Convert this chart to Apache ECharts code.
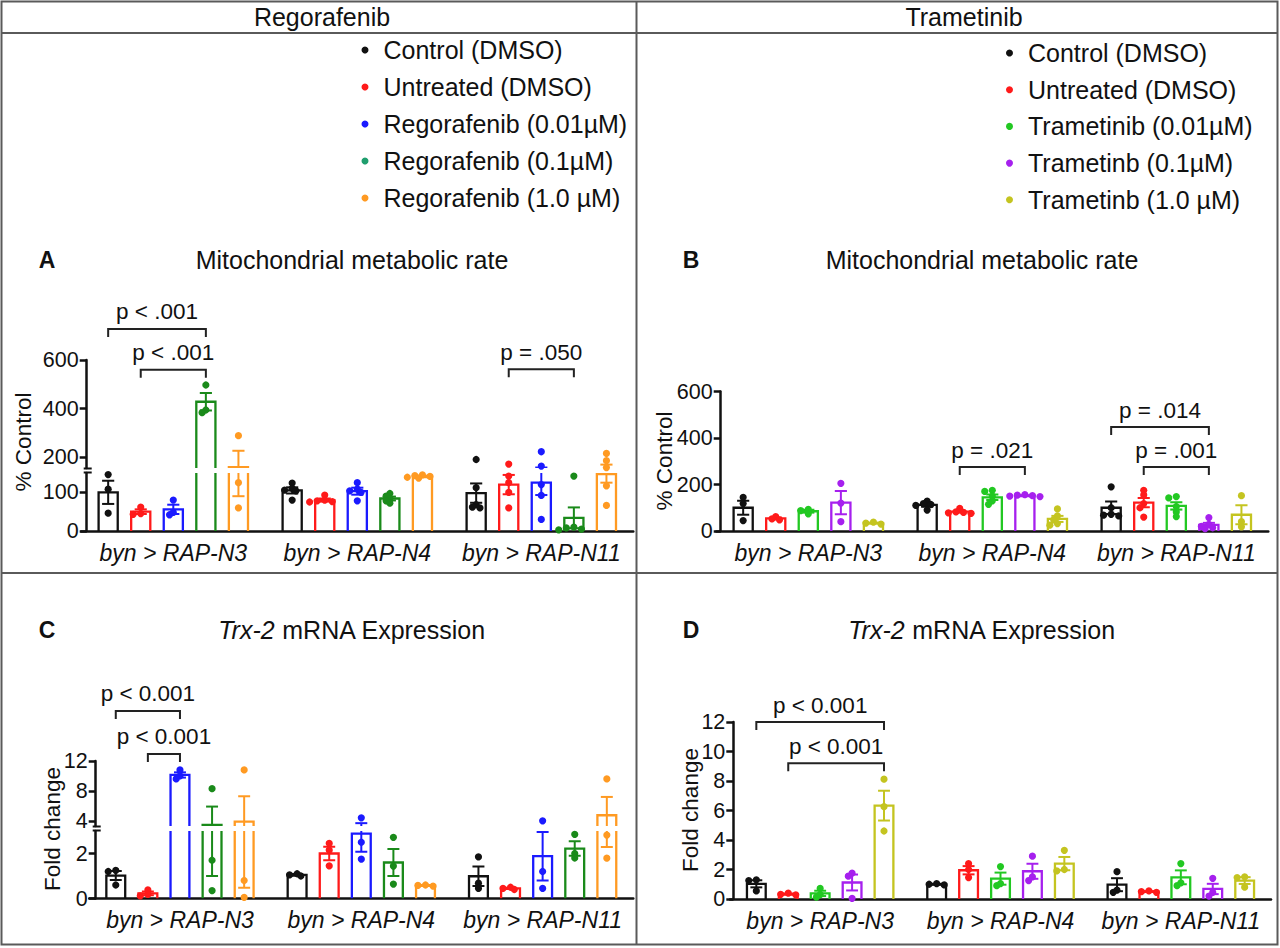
<!DOCTYPE html>
<html>
<head>
<meta charset="utf-8">
<script src="https://cdn.jsdelivr.net/npm/echarts@6/dist/echarts.min.js"></script>
<style>
  html, body { margin: 0; padding: 0; background: #fff; }
  #chart { width: 1280px; height: 948px; }
</style>
</head>
<body>
<div id="chart"></div>
<script>
// ---- data ----
const categories = ['byn > RAP-N3', 'byn > RAP-N4', 'byn > RAP-N11'];
const regoNames = ['Control (DMSO)', 'Untreated (DMSO)', 'Regorafenib (0.01µM)', 'Regorafenib (0.1µM)', 'Regorafenib (1.0 µM)'];
const tramNames = ['Control (DMSO)', 'Untreated (DMSO)', 'Trametinib (0.01µM)', 'Trametinb (0.1µM)', 'Trametinb (1.0 µM)'];

// A: mitochondrial metabolic rate, regorafenib (% control), [group][category]
const meanA = [[100, 105, 98], [50, 80, 120], [56, 103, 125], [428, 84, 34], [158, 141, 147]];
const semA = [[30, 8, 25], [6, 4, 25], [12, 9, 32], [36, 5, 27], [68, 2, 22]];
const ptsA = [
  [[146, 108, 46], [124, 110, 106, 104, 80], [190, 112, 68, 62, 60]],
  [[62, 45, 43], [93, 80, 78, 76, 75], [171, 142, 125, 100, 60]],
  [[80, 48, 42], [125, 108, 104, 100, 78], [222, 163, 120, 92, 30]],
  [[497, 394, 383], [97, 90, 84, 78, 72], [142, 10, 8, 5, 3]],
  [[288, 125, 60], [145, 143, 141, 139, 137], [215, 185, 157, 117, 66]]
];
// B: mitochondrial metabolic rate, trametinib
const meanB = [[100, 112, 100], [54, 83, 122], [85, 145, 108], [122, 152, 26], [34, 52, 70]];
const semB = [[30, 8, 27], [4, 4, 20], [6, 12, 16], [50, 2, 9], [2, 13, 41]];
const ptsB = [
  [[145, 118, 45], [128, 118, 114, 110, 90], [190, 100, 72, 68, 65]],
  [[62, 52, 48], [97, 82, 80, 78, 76], [175, 155, 118, 100, 60]],
  [[93, 88, 74], [175, 170, 150, 130, 115], [148, 142, 105, 82, 62]],
  [[205, 120, 40], [156, 154, 152, 150, 148], [58, 28, 20, 14, 10]],
  [[38, 34, 30], [95, 65, 48, 32, 25], [152, 40, 18]]
];
// C: Trx-2 mRNA, regorafenib (fold change)
const meanC = [[1.02, 1.05, 0.99], [0.23, 2.0, 0.45], [10.13, 2.88, 1.88], [3.45, 1.6, 2.22], [3.88, 0.58, 4.74]];
const semC = [[0.2, 0.04, 0.43], [0.08, 0.3, 0.03], [0.35, 0.8, 1.08], [2.45, 0.6, 0.32], [3.4, 0.02, 2.45]];
const ptsC = [
  [[1.25, 1.2, 0.6], [1.1, 1.05, 1.0], [1.85, 0.68, 0.45]],
  [[0.38, 0.18, 0.12], [2.45, 2.15, 1.45], [0.5, 0.45, 0.4]],
  [[10.8, 10.0, 9.6], [4.4, 2.5, 1.75], [4.0, 1.2, 0.45]],
  [[8.3, 1.7, 0.35], [2.72, 1.44, 0.64], [2.85, 2.0, 1.8]],
  [[10.8, 0.8, 0.05], [0.6, 0.58, 0.55], [9.6, 2.82, 1.79]]
];
// D: Trx-2 mRNA, trametinib
const meanD = [[1.03, 1.0, 0.97], [0.33, 1.95, 0.5], [0.38, 1.38, 1.47], [1.12, 1.88, 0.68], [6.33, 2.4, 1.25]];
const semD = [[0.24, 0.03, 0.44], [0.04, 0.28, 0.03], [0.18, 0.41, 0.47], [0.54, 0.51, 0.35], [1.01, 0.45, 0.23]];
const ptsD = [
  [[1.3, 1.25, 0.55], [1.05, 1.0, 0.95], [1.85, 0.6, 0.45]],
  [[0.4, 0.32, 0.28], [2.4, 2.0, 1.45], [0.55, 0.5, 0.45]],
  [[0.72, 0.3, 0.12], [2.2, 1.05, 0.9], [2.4, 1.1, 0.9]],
  [[1.75, 1.55, 0.05], [2.9, 1.5, 1.25], [1.4, 0.45, 0.2]],
  [[8.12, 6.26, 4.61], [3.3, 2.0, 1.9], [1.5, 1.45, 0.8]]
];

// significance brackets: [category, from group, to group], level in axis units
const pPairsA = [[0, 0, 3], [0, 1, 3], [2, 1, 3]];
const pLevelsA = [728, 560, 562];
const pLabelsA = ['p < .001', 'p < .001', 'p = .050'];
const pPairsB = [[1, 1, 3], [2, 0, 3], [2, 1, 3]];
const pLevelsB = [275, 447, 275];
const pLabelsB = ['p = .021', 'p = .014', 'p = .001'];
const pPairsC = [[0, 0, 2], [0, 1, 2]];
const pLevelsC = [18.7, 12.94];
const pLabelsC = ['p < 0.001', 'p < 0.001'];
const pPairsD = [[0, 0, 4], [0, 1, 4]];
const pLevelsD = [12.0, 9.2];
const pLabelsD = ['p < 0.001', 'p < 0.001'];

// axis tick labels
const ticksAUp = [200, 400, 600];
const ticksALow = [0, 100];
const ticksB = [0, 200, 400, 600];
const ticksCUp = [4, 8, 12];
const ticksCLow = [0, 2];
const ticksD = [0, 2, 4, 6, 8, 10, 12];

// ---- style ----
const FONT = '"Liberation Sans", Arial, Helvetica, sans-serif';
const INK = '#111';
const regoColors = ['#111111', '#ff1a1a', '#1a1aff', '#1a8a1a', '#ff9a22'];
const tramColors = ['#111111', '#ff1a1a', '#22c822', '#a620ee', '#c4c420'];
const regoLegendColors = ['#111111', '#ff1a1a', '#1a1aff', '#1f9e6e', '#ff9a22'];
const SPACING = 0.177;   // distance between bars, fraction of band
const BARW = 0.104;
const CAPW = 0.066;
const R = 3.6;

const panels = [
  { means: meanA, sems: semA, pts: ptsA, names: regoNames, colors: regoColors,
    left: 81.3, width: 552, axisX: 86.7,
    segs: [{ top: 360, bottom: 468, min: 155, max: 600, ticks: ticksAUp },
           { top: 473, bottom: 531, min: 0, max: 150, ticks: ticksALow }],
    pairs: pPairsA, levels: pLevelsA, labels: pLabelsA },
  { means: meanB, sems: semB, pts: ptsB, names: tramNames, colors: tramColors,
    left: 716.3, width: 552, axisX: 720.7,
    segs: [{ top: 391.5, bottom: 531, min: 0, max: 600, ticks: ticksB }],
    pairs: pPairsB, levels: pLevelsB, labels: pLabelsB },
  { means: meanC, sems: semC, pts: ptsC, names: regoNames, colors: regoColors,
    left: 89.3, width: 544, axisX: 95.7,
    segs: [{ top: 761, bottom: 826, min: 3.3, max: 12, ticks: ticksCUp },
           { top: 831, bottom: 898.5, min: 0, max: 3, ticks: ticksCLow }],
    pairs: pPairsC, levels: pLevelsC, labels: pLabelsC },
  { means: meanD, sems: semD, pts: ptsD, names: tramNames, colors: tramColors,
    left: 730, width: 541, axisX: 733.3,
    segs: [{ top: 722, bottom: 899, min: 0, max: 12, ticks: ticksD }],
    pairs: pPairsD, levels: pLevelsD, labels: pLabelsD }
];

function barItem(p, s, color) {
  return function (params, api) {
    const c = api.value(0);
    const m = api.value(1);
    const e = p.sems[s][c];
    const band = api.size([1, 0])[0];
    const base = api.coord([c, 0]);
    const cx = base[0] + (s - 2) * band * SPACING;
    const hw = band * BARW / 2;
    const cw = band * CAPW / 2;
    const yTop = api.coord([c, m])[1];
    const yHi = api.coord([c, m + e])[1];
    const yLo = api.coord([c, Math.max(m - e, 0)])[1];
    const st = { stroke: color, lineWidth: 2.3, fill: null };
    return {
      type: 'group',
      children: [
        { type: 'polyline', shape: { points: [[cx - hw, base[1]], [cx - hw, yTop], [cx + hw, yTop], [cx + hw, base[1]]] }, style: st },
        { type: 'line', shape: { x1: cx, y1: yLo, x2: cx, y2: yHi }, style: { stroke: color, lineWidth: 2 } },
        { type: 'line', shape: { x1: cx - cw, y1: yHi, x2: cx + cw, y2: yHi }, style: { stroke: color, lineWidth: 2 } },
        { type: 'line', shape: { x1: cx - cw, y1: yLo, x2: cx + cw, y2: yLo }, style: { stroke: color, lineWidth: 2 } }
      ]
    };
  };
}

// points spread sideways only where they would overlap
function pointItem(p, s, color, lo, hi) {
  return function (params, api) {
    const c = api.value(0);
    const band = api.size([1, 0])[0];
    const cx = api.coord([c, 0])[0] + (s - 2) * band * SPACING;
    const ys = p.pts[s][c].filter(v => v > lo && v <= hi).map(v => api.coord([c, v])[1]);
    ys.sort((a, b) => a - b);
    const placed = [];
    const step = R * 1.05;
    const children = ys.map(y => {
      let dx = 0;
      for (let k = 0; k < 9; k++) {
        const cand = k === 0 ? 0 : (k % 2 ? -1 : 1) * Math.ceil(k / 2) * step;
        if (placed.every(q => Math.hypot(q[0] - cand, q[1] - y) >= R * 1.2)) { dx = cand; break; }
      }
      placed.push([dx, y]);
      return { type: 'circle', shape: { cx: cx + dx, cy: y, r: R }, style: { fill: color } };
    });
    return { type: 'group', children };
  };
}

function bracketItem(p) {
  return function (params, api) {
    const pr = p.pairs[params.dataIndex];
    const band = api.size([1, 0])[0];
    const pt = api.coord([api.value(0), api.value(1)]);
    const x1 = pt[0] + (pr[1] - 2) * band * SPACING;
    const x2 = pt[0] + (pr[2] - 2) * band * SPACING;
    const y = pt[1];
    return {
      type: 'group',
      children: [
        { type: 'polyline', shape: { points: [[x1, y + 8], [x1, y], [x2, y], [x2, y + 8]] },
          style: { stroke: '#222', lineWidth: 2, fill: null } },
        { type: 'text', x: (x1 + x2) / 2, y: y - 17,
          style: { text: p.labels[params.dataIndex], fontSize: 22.5, fontFamily: FONT, fill: INK,
                   textAlign: 'center', textVerticalAlign: 'middle' } }
      ]
    };
  };
}

const grid = [], xAxis = [], yAxis = [], series = [];
panels.forEach(p => {
  const broken = p.segs.length > 1;
  p.segs.forEach((sg, k) => {
    const gi = grid.length;
    const isBottom = k === p.segs.length - 1;
    grid.push({ left: p.left, top: sg.top, width: p.width, height: sg.bottom - sg.top, outerBoundsMode: 'none' });
    xAxis.push({
      type: 'category', gridIndex: gi, data: categories, show: isBottom,
      axisLine: { lineStyle: { color: INK, width: 2.5 } },
      axisTick: { alignWithLabel: true, length: 7, lineStyle: { color: INK, width: 2.5 } },
      axisLabel: { interval: 0, margin: 10, fontSize: 23, fontStyle: 'italic', color: INK, fontFamily: FONT }
    });
    yAxis.push({
      type: 'value', gridIndex: gi, min: sg.min, max: sg.max, offset: -(p.axisX - p.left),
      axisLine: { show: true, lineStyle: { color: INK, width: 2.5 } },
      axisTick: { show: true, length: 7, customValues: sg.ticks, lineStyle: { color: INK, width: 2.5 } },
      axisLabel: { customValues: sg.ticks, margin: 8, fontSize: 21.5, color: INK, fontFamily: FONT },
      splitLine: { show: false }
    });
    const lo = broken && k === 1 ? -Infinity : (broken ? sg.min : -Infinity);
    const hi = broken && k === 1 ? p.segs[0].min : Infinity;
    p.names.forEach((name, s) => {
      const data = categories.map((_, c) => [c, p.means[s][c]]);
      series.push({
        type: 'custom', name, xAxisIndex: gi, yAxisIndex: gi, clip: true, silent: true,
        itemStyle: { color: p.colors[s] }, renderItem: barItem(p, s, p.colors[s]), data
      });
    });
    p.names.forEach((name, s) => {
      const data = categories.map((_, c) => [c, p.means[s][c]]);
      series.push({
        type: 'custom', name, xAxisIndex: gi, yAxisIndex: gi, clip: false, silent: true, z: 3,
        itemStyle: { color: p.colors[s] }, renderItem: pointItem(p, s, p.colors[s], lo, hi), data
      });
    });
    if (k === 0) {
      series.push({
        type: 'custom', name: 'significance', xAxisIndex: gi, yAxisIndex: gi, clip: false, silent: true, z: 4,
        renderItem: bracketItem(p), data: p.pairs.map((pr, i) => [pr[0], p.levels[i]])
      });
    }
  });
});

// ---- frame, headings and labels ----
const FRAME = '#5a5a5a';
function frameLine(x1, y1, x2, y2) {
  return { type: 'line', silent: true, shape: { x1, y1, x2, y2 }, style: { stroke: FRAME, lineWidth: 2 } };
}
function txt(text, x, y, size, extra) {
  return { type: 'text', silent: true, x, y,
    style: Object.assign({ text, fontSize: size, fontFamily: FONT, fill: INK, textAlign: 'center', textVerticalAlign: 'middle' }, extra || {}) };
}
function breakMark(x, y) {
  return { type: 'line', silent: true, shape: { x1: x - 3, y1: y, x2: x + 5, y2: y }, style: { stroke: INK, lineWidth: 2 } };
}
const trxRich = { i: { fontStyle: 'italic', fontSize: 25, fontFamily: FONT, fill: INK } };

const graphic = [
  { type: 'rect', silent: true, shape: { x: 1.5, y: 1.5, width: 1276, height: 943 }, style: { fill: null, stroke: FRAME, lineWidth: 2 } },
  frameLine(1.5, 33, 1277.5, 33),
  frameLine(636.5, 1.5, 636.5, 944.5),
  frameLine(1.5, 573, 1277.5, 573),
  txt('Regorafenib', 322, 17, 25),
  txt('Trametinib', 964, 17, 25),
  txt('A', 47, 260, 23, { fontWeight: 'bold' }),
  txt('B', 691, 260, 23, { fontWeight: 'bold' }),
  txt('C', 47, 630, 23, { fontWeight: 'bold' }),
  txt('D', 691, 630, 23, { fontWeight: 'bold' }),
  txt('Mitochondrial metabolic rate', 352, 260, 25),
  txt('Mitochondrial metabolic rate', 982, 260, 25),
  txt('{i|Trx-2} mRNA Expression', 352, 630, 25, { rich: trxRich }),
  txt('{i|Trx-2} mRNA Expression', 982, 630, 25, { rich: trxRich }),
  Object.assign(txt('% Control', 23, 442, 22.5), { rotation: Math.PI / 2 }),
  Object.assign(txt('% Control', 664, 461, 22.5), { rotation: Math.PI / 2 }),
  Object.assign(txt('Fold change', 52, 829, 22.5), { rotation: Math.PI / 2 }),
  Object.assign(txt('Fold change', 690, 810, 22.5), { rotation: Math.PI / 2 }),
  breakMark(86.7, 468.5), breakMark(86.7, 472.5),
  breakMark(95.7, 826.5), breakMark(95.7, 830.5)
];

const legendText = { fontSize: 25, color: INK, fontFamily: FONT, lineHeight: 26, rich: { g: { width: 10, lineHeight: 26 } } };
const legend = [
  { orient: 'vertical', left: 361.5, top: 37, padding: 0, itemWidth: 7, itemHeight: 7, itemGap: 11, icon: 'circle',
    selectedMode: false, formatter: '{g|}{name}', textStyle: legendText, itemStyle: { borderWidth: 0 },
    data: regoNames.map((n, i) => ({ name: n, icon: 'circle', itemStyle: { color: regoLegendColors[i] } })) },
  { orient: 'vertical', left: 1006, top: 40, padding: 0, itemWidth: 7, itemHeight: 7, itemGap: 10.7, icon: 'circle',
    selectedMode: false, formatter: '{g|}{name}', textStyle: legendText, itemStyle: { borderWidth: 0 },
    data: tramNames.map((n, i) => ({ name: n, icon: 'circle', itemStyle: { color: tramColors[i] } })) }
];

const chart = echarts.init(document.getElementById('chart'), null, { renderer: 'svg' });
chart.setOption({
  animation: false,
  backgroundColor: '#fff',
  textStyle: { fontFamily: FONT },
  grid, xAxis, yAxis, series, legend, graphic
});
</script>
</body>
</html>
